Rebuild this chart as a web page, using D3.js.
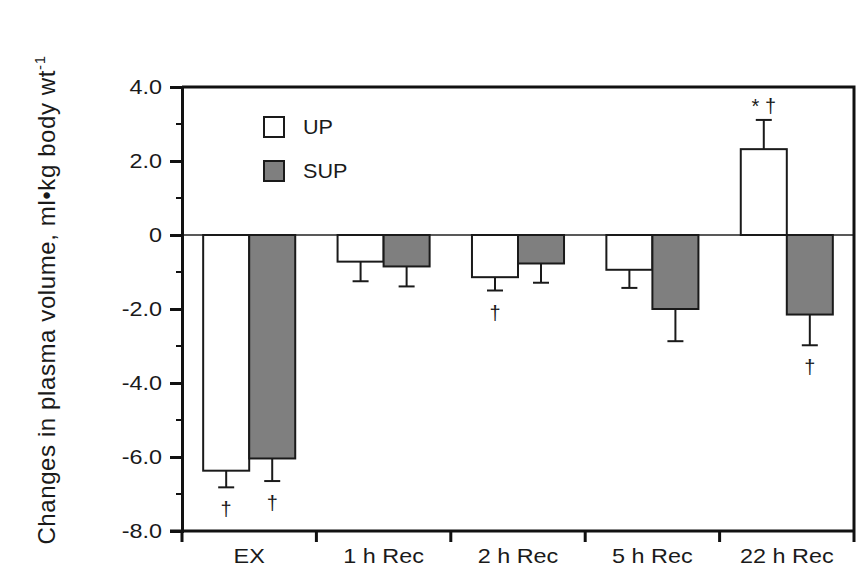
<!DOCTYPE html>
<html>
<head>
<meta charset="utf-8">
<script src="https://cdn.jsdelivr.net/npm/d3@7"></script>
<style>
  html, body { margin: 0; padding: 0; background: #ffffff; }
  svg { display: block; }
  text { font-family: "Liberation Sans", Arial, Helvetica, sans-serif; fill: #1a1a1a; }
</style>
</head>
<body>
<svg id="chart" width="866" height="567"></svg>
<script>
// Time points and group names
const categories = ["EX", "1 h Rec", "2 h Rec", "5 h Rec", "22 h Rec"];
const seriesNames = ["UP", "SUP"];

// Mean change in plasma volume (ml·kg body wt⁻¹)
const upValues  = [-6.37, -0.72, -1.14, -0.94, 2.32];
const supValues = [-6.04, -0.85, -0.77, -2.00, -2.15];

// Standard error of each mean
const upErrors  = [0.45, 0.53, 0.36, 0.49, 0.79];
const supErrors = [0.61, 0.54, 0.52, 0.87, 0.83];

// Significance markers placed beyond each error bar
const upMarks  = ["†", "", "†", "", "* †"];
const supMarks = ["†", "", "", "", "†"];

// Axis ticks
const yMajorTicks = [4, 2, 0, -2, -4, -6, -8];
const yMinorTicks = [3, 1, -1, -3, -5, -7];
const yTickLabels = ["4.0", "2.0", "0", "-2.0", "-4.0", "-6.0", "-8.0"];

const fills = { UP: "#ffffff", SUP: "#7f7f7f" };
const WIDEN = 1.17; // horizontal stretch of the label lettering

const svg = d3.select("#chart");
const margin = { left: 182, right: 12, top: 87, bottom: 36 };
const W = 866, H = 567;
const x0 = margin.left, x1 = W - margin.right;
const yTop = margin.top, yBot = H - margin.bottom;

const x = d3.scaleBand().domain(categories).range([x0, x1]).paddingInner(0).paddingOuter(0);
const xs = d3.scaleBand().domain(seriesNames).range([0, x.bandwidth()]).paddingInner(0).paddingOuter(0.46);
const y = d3.scaleLinear().domain([-8, 4]).range([yBot, yTop]);

const rows = [];
categories.forEach((c, i) => {
  rows.push({ cat: c, s: "UP",  v: upValues[i],  e: upErrors[i],  m: upMarks[i] });
  rows.push({ cat: c, s: "SUP", v: supValues[i], e: supErrors[i], m: supMarks[i] });
});

// Zero reference line
svg.append("line")
  .attr("x1", x0).attr("x2", x1)
  .attr("y1", y(0)).attr("y2", y(0))
  .attr("stroke", "#222").attr("stroke-width", 1.5);

// Error bars (drawn first so the bars sit on top)
const eg = svg.append("g").attr("stroke", "#1a1a1a").attr("stroke-width", 2);
rows.forEach(d => {
  const cx = x(d.cat) + xs(d.s) + xs.bandwidth() / 2;
  const end = d.v >= 0 ? d.v + d.e : d.v - d.e;
  eg.append("line").attr("x1", cx).attr("x2", cx).attr("y1", y(d.v)).attr("y2", y(end));
  eg.append("line").attr("x1", cx - 8).attr("x2", cx + 8).attr("y1", y(end)).attr("y2", y(end));
});

// Bars
svg.append("g").selectAll("rect").data(rows).join("rect")
  .attr("x", d => x(d.cat) + xs(d.s))
  .attr("width", xs.bandwidth())
  .attr("y", d => y(Math.max(0, d.v)))
  .attr("height", d => Math.abs(y(d.v) - y(0)))
  .attr("fill", d => fills[d.s])
  .attr("stroke", "#1a1a1a").attr("stroke-width", 2);

// Significance markers
svg.append("g").selectAll("text").data(rows.filter(d => d.m)).join("text")
  .attr("x", d => x(d.cat) + xs(d.s) + xs.bandwidth() / 2)
  .attr("y", d => d.v >= 0 ? y(d.v + d.e) - 7 : y(d.v - d.e) + 29)
  .attr("text-anchor", "middle")
  .attr("font-size", 20)
  .attr("fill", "#333")
  .text(d => d.m);

// Frame: top and right borders
svg.append("path")
  .attr("d", `M${x0},${yTop}H${x1}V${yBot}`)
  .attr("fill", "none").attr("stroke", "#111").attr("stroke-width", 3);

// Y axis
const yAxis = d3.axisLeft(y).tickValues(yMajorTicks).tickSize(12).tickPadding(0)
  .tickFormat((d, i) => yTickLabels[i]);
const gy = svg.append("g").attr("transform", `translate(${x0},0)`).call(yAxis);
gy.select(".domain").attr("stroke", "#111").attr("stroke-width", 3);
gy.selectAll(".tick line").attr("stroke", "#111").attr("stroke-width", 3);
gy.selectAll(".tick text")
  .attr("x", 0)
  .attr("transform", `translate(-20,0) scale(${WIDEN},1)`)
  .attr("font-size", 20)
  .attr("font-family", "Liberation Sans, Arial, sans-serif")
  .attr("fill", "#1a1a1a");
svg.append("g").selectAll("line").data(yMinorTicks).join("line")
  .attr("x1", x0 - 6).attr("x2", x0).attr("y1", d => y(d)).attr("y2", d => y(d))
  .attr("stroke", "#111").attr("stroke-width", 2);

// X axis with ticks at category boundaries
const gx = svg.append("g").attr("transform", `translate(0,${yBot})`);
gx.append("line").attr("x1", x0 - 12).attr("x2", x1).attr("y1", 0).attr("y2", 0)
  .attr("stroke", "#111").attr("stroke-width", 3);
const bounds = categories.map(c => x(c)).concat([x1]);
gx.selectAll("line.b").data(bounds).join("line").attr("class", "b")
  .attr("x1", d => d).attr("x2", d => d).attr("y1", 0).attr("y2", 11)
  .attr("stroke", "#111").attr("stroke-width", 3);
gx.selectAll("text").data(categories).join("text")
  .attr("transform", d => `translate(${x(d) + x.bandwidth() / 2},32) scale(${WIDEN},1)`)
  .attr("text-anchor", "middle")
  .attr("font-size", 20)
  .text(d => d);

// Y axis title
const title = svg.append("text")
  .attr("transform", `translate(55,300) rotate(-90)`)
  .attr("text-anchor", "middle")
  .attr("font-size", 24)
  .attr("letter-spacing", 0.6);
title.append("tspan").text("Changes in plasma volume, ml•kg body wt");
title.append("tspan").attr("dy", -10).attr("font-size", 15).text("-1");

// Legend
const legend = svg.append("g");
seriesNames.forEach((s, i) => {
  const ly = 117 + i * 44;
  legend.append("rect").attr("x", 264).attr("y", ly).attr("width", 20).attr("height", 20)
    .attr("fill", fills[s]).attr("stroke", "#1a1a1a").attr("stroke-width", 2);
  legend.append("text")
    .attr("transform", `translate(303,${ly + 17}) scale(1.08,1)`)
    .attr("font-size", 20).text(s);
});
</script>
</body>
</html>
